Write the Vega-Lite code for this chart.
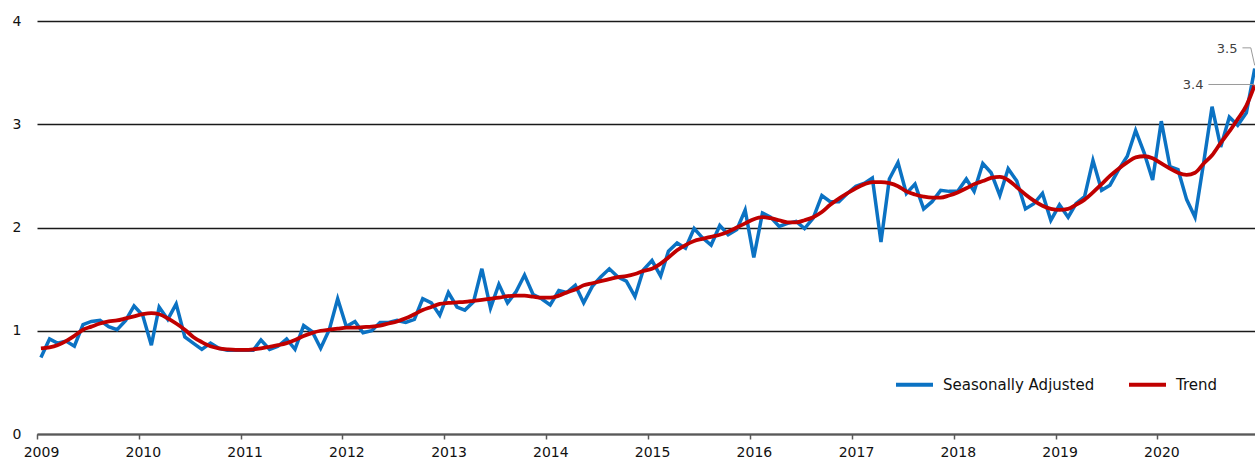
{
  "$schema": "https://vega.github.io/schema/vega-lite/v6.json",
  "width": 1218,
  "height": 413,
  "autosize": {"type": "none"},
  "padding": {"left": 37, "top": 21, "right": 0, "bottom": 26},
  "config": {"font": "DejaVu Sans", "view": {"stroke": null}},
  "datasets": {
    "main": [
      {"date":"2009-01-15","sa":0.74,"trend":0.83},{"date":"2009-02-15","sa":0.92,"trend":0.84},{"date":"2009-03-15","sa":0.88,"trend":0.86},{"date":"2009-04-15","sa":0.90,"trend":0.90},{"date":"2009-05-15","sa":0.85,"trend":0.95},{"date":"2009-06-15","sa":1.06,"trend":1.01},{"date":"2009-07-15","sa":1.09,"trend":1.04},{"date":"2009-08-15","sa":1.10,"trend":1.07},{"date":"2009-09-15","sa":1.04,"trend":1.09},{"date":"2009-10-15","sa":1.01,"trend":1.10},{"date":"2009-11-15","sa":1.10,"trend":1.12},{"date":"2009-12-15","sa":1.24,"trend":1.14},
      {"date":"2010-01-15","sa":1.15,"trend":1.16},{"date":"2010-02-15","sa":0.86,"trend":1.17},{"date":"2010-03-15","sa":1.23,"trend":1.16},{"date":"2010-04-15","sa":1.11,"trend":1.12},{"date":"2010-05-15","sa":1.26,"trend":1.07},{"date":"2010-06-15","sa":0.94,"trend":1.01},{"date":"2010-07-15","sa":0.88,"trend":0.94},{"date":"2010-08-15","sa":0.82,"trend":0.89},{"date":"2010-09-15","sa":0.88,"trend":0.85},{"date":"2010-10-15","sa":0.83,"trend":0.83},{"date":"2010-11-15","sa":0.81,"trend":0.82},{"date":"2010-12-15","sa":0.81,"trend":0.815},
      {"date":"2011-01-15","sa":0.81,"trend":0.815},{"date":"2011-02-15","sa":0.81,"trend":0.82},{"date":"2011-03-15","sa":0.91,"trend":0.83},{"date":"2011-04-15","sa":0.82,"trend":0.845},{"date":"2011-05-15","sa":0.85,"trend":0.86},{"date":"2011-06-15","sa":0.92,"trend":0.88},{"date":"2011-07-15","sa":0.82,"trend":0.91},{"date":"2011-08-15","sa":1.05,"trend":0.95},{"date":"2011-09-15","sa":0.99,"trend":0.98},{"date":"2011-10-15","sa":0.83,"trend":1.00},{"date":"2011-11-15","sa":1.01,"trend":1.01},{"date":"2011-12-15","sa":1.31,"trend":1.02},
      {"date":"2012-01-15","sa":1.04,"trend":1.03},{"date":"2012-02-15","sa":1.09,"trend":1.03},{"date":"2012-03-15","sa":0.98,"trend":1.035},{"date":"2012-04-15","sa":1.00,"trend":1.04},{"date":"2012-05-15","sa":1.08,"trend":1.05},{"date":"2012-06-15","sa":1.08,"trend":1.07},{"date":"2012-07-15","sa":1.10,"trend":1.09},{"date":"2012-08-15","sa":1.08,"trend":1.12},{"date":"2012-09-15","sa":1.11,"trend":1.16},{"date":"2012-10-15","sa":1.31,"trend":1.20},{"date":"2012-11-15","sa":1.27,"trend":1.23},{"date":"2012-12-15","sa":1.15,"trend":1.26},
      {"date":"2013-01-15","sa":1.37,"trend":1.27},{"date":"2013-02-15","sa":1.23,"trend":1.275},{"date":"2013-03-15","sa":1.20,"trend":1.28},{"date":"2013-04-15","sa":1.28,"trend":1.29},{"date":"2013-05-15","sa":1.60,"trend":1.30},{"date":"2013-06-15","sa":1.22,"trend":1.31},{"date":"2013-07-15","sa":1.45,"trend":1.32},{"date":"2013-08-15","sa":1.27,"trend":1.335},{"date":"2013-09-15","sa":1.38,"trend":1.34},{"date":"2013-10-15","sa":1.54,"trend":1.34},{"date":"2013-11-15","sa":1.35,"trend":1.33},{"date":"2013-12-15","sa":1.31,"trend":1.32},
      {"date":"2014-01-15","sa":1.25,"trend":1.32},{"date":"2014-02-15","sa":1.39,"trend":1.34},{"date":"2014-03-15","sa":1.37,"trend":1.37},{"date":"2014-04-15","sa":1.44,"trend":1.40},{"date":"2014-05-15","sa":1.27,"trend":1.44},{"date":"2014-06-15","sa":1.43,"trend":1.46},{"date":"2014-07-15","sa":1.52,"trend":1.48},{"date":"2014-08-15","sa":1.60,"trend":1.50},{"date":"2014-09-15","sa":1.52,"trend":1.52},{"date":"2014-10-15","sa":1.48,"trend":1.53},{"date":"2014-11-15","sa":1.33,"trend":1.55},{"date":"2014-12-15","sa":1.59,"trend":1.58},
      {"date":"2015-01-15","sa":1.68,"trend":1.60},{"date":"2015-02-15","sa":1.53,"trend":1.65},{"date":"2015-03-15","sa":1.77,"trend":1.71},{"date":"2015-04-15","sa":1.85,"trend":1.78},{"date":"2015-05-15","sa":1.80,"trend":1.83},{"date":"2015-06-15","sa":1.99,"trend":1.87},{"date":"2015-07-15","sa":1.90,"trend":1.89},{"date":"2015-08-15","sa":1.83,"trend":1.91},{"date":"2015-09-15","sa":2.02,"trend":1.93},{"date":"2015-10-15","sa":1.93,"trend":1.96},{"date":"2015-11-15","sa":1.98,"trend":2.00},{"date":"2015-12-15","sa":2.17,"trend":2.04},
      {"date":"2016-01-15","sa":1.71,"trend":2.08},{"date":"2016-02-15","sa":2.14,"trend":2.10},{"date":"2016-03-15","sa":2.10,"trend":2.09},{"date":"2016-04-15","sa":2.01,"trend":2.07},{"date":"2016-05-15","sa":2.04,"trend":2.05},{"date":"2016-06-15","sa":2.06,"trend":2.05},{"date":"2016-07-15","sa":1.99,"trend":2.07},{"date":"2016-08-15","sa":2.09,"trend":2.10},{"date":"2016-09-15","sa":2.31,"trend":2.15},{"date":"2016-10-15","sa":2.25,"trend":2.22},{"date":"2016-11-15","sa":2.25,"trend":2.28},{"date":"2016-12-15","sa":2.33,"trend":2.33},
      {"date":"2017-01-15","sa":2.40,"trend":2.38},{"date":"2017-02-15","sa":2.43,"trend":2.42},{"date":"2017-03-15","sa":2.48,"trend":2.44},{"date":"2017-04-15","sa":1.86,"trend":2.44},{"date":"2017-05-15","sa":2.47,"trend":2.43},{"date":"2017-06-15","sa":2.63,"trend":2.40},{"date":"2017-07-15","sa":2.33,"trend":2.35},{"date":"2017-08-15","sa":2.42,"trend":2.32},{"date":"2017-09-15","sa":2.18,"trend":2.30},{"date":"2017-10-15","sa":2.25,"trend":2.29},{"date":"2017-11-15","sa":2.36,"trend":2.29},{"date":"2017-12-15","sa":2.35,"trend":2.31},
      {"date":"2018-01-15","sa":2.35,"trend":2.34},{"date":"2018-02-15","sa":2.47,"trend":2.38},{"date":"2018-03-15","sa":2.35,"trend":2.42},{"date":"2018-04-15","sa":2.62,"trend":2.45},{"date":"2018-05-15","sa":2.53,"trend":2.48},{"date":"2018-06-15","sa":2.31,"trend":2.49},{"date":"2018-07-15","sa":2.57,"trend":2.46},{"date":"2018-08-15","sa":2.45,"trend":2.39},{"date":"2018-09-15","sa":2.18,"trend":2.32},{"date":"2018-10-15","sa":2.23,"trend":2.26},{"date":"2018-11-15","sa":2.33,"trend":2.21},{"date":"2018-12-15","sa":2.07,"trend":2.18},
      {"date":"2019-01-15","sa":2.22,"trend":2.17},{"date":"2019-02-15","sa":2.10,"trend":2.18},{"date":"2019-03-15","sa":2.23,"trend":2.22},{"date":"2019-04-15","sa":2.30,"trend":2.27},{"date":"2019-05-15","sa":2.65,"trend":2.34},{"date":"2019-06-15","sa":2.36,"trend":2.42},{"date":"2019-07-15","sa":2.41,"trend":2.50},{"date":"2019-08-15","sa":2.56,"trend":2.57},{"date":"2019-09-15","sa":2.69,"trend":2.63},{"date":"2019-10-15","sa":2.94,"trend":2.68},{"date":"2019-11-15","sa":2.72,"trend":2.69},{"date":"2019-12-15","sa":2.46,"trend":2.67},
      {"date":"2020-01-15","sa":3.03,"trend":2.62},{"date":"2020-02-15","sa":2.59,"trend":2.57},{"date":"2020-03-15","sa":2.56,"trend":2.53},{"date":"2020-04-15","sa":2.27,"trend":2.51},{"date":"2020-05-15","sa":2.10,"trend":2.53},{"date":"2020-06-15","sa":2.63,"trend":2.62},{"date":"2020-07-15","sa":3.17,"trend":2.70},{"date":"2020-08-15","sa":2.78,"trend":2.82},{"date":"2020-09-15","sa":3.07,"trend":2.93},{"date":"2020-10-15","sa":2.99,"trend":3.05},{"date":"2020-11-15","sa":3.11,"trend":3.18},{"date":"2020-12-15","sa":3.54,"trend":3.38}
    ],
    "leaders": [
      {"id":"sa","date":"2020-11-01","v":3.74},{"id":"sa","date":"2020-12-01","v":3.74},{"id":"sa","date":"2020-12-15","v":3.57},
      {"id":"trend","date":"2020-07-02","v":3.385},{"id":"trend","date":"2020-12-09","v":3.385},{"id":"trend","date":"2020-12-15","v":3.37}
    ],
    "labels": [
      {"label":"3.5","date":"2020-11-01","v":3.74},
      {"label":"3.4","date":"2020-07-02","v":3.385}
    ]
  },
  "layer": [
    {
      "data": {"name": "main"},
      "mark": {"type": "line", "strokeWidth": 3.5, "clip": true},
      "encoding": {
        "x": {
          "field": "date", "type": "temporal",
          "scale": {"type": "utc", "domain": [{"year": 2009, "month": 1, "date": 1, "utc": true}, {"year": 2020, "month": 12, "date": 16, "utc": true}]},
          "axis": {
            "title": null, "format": "%Y", "tickCount": {"interval": "year", "step": 1},
            "grid": false, "domainColor": "#595959", "domainWidth": 2,
            "tickColor": "#595959", "tickWidth": 1.5, "tickSize": 5,
            "labelFontSize": 14, "labelColor": "#111111", "labelPadding": 6, "labelOffset": 4,
            "labelFlush": false
          }
        },
        "y": {
          "field": "sa", "type": "quantitative",
          "scale": {"domain": [0, 4], "nice": false, "zero": true},
          "axis": {
            "title": null, "values": [0, 1, 2, 3, 4], "format": "d", "domain": false, "ticks": false,
            "gridColor": "#1a1a1a", "gridWidth": 1.3, "labelFontSize": 14,
            "labelColor": "#111111", "labelPadding": 16
          }
        },
        "color": {
          "datum": "Seasonally Adjusted", "type": "nominal",
          "scale": {"domain": ["Seasonally Adjusted", "Trend"], "range": ["#0b72c3", "#c00000"]},
          "legend": {
            "title": null, "orient": "none", "legendX": 857, "legendY": 343,
            "direction": "horizontal", "symbolType": "stroke", "symbolSize": 1369,
            "symbolStrokeWidth": 4, "labelFontSize": 15, "labelColor": "#111111",
            "labelOffset": 8, "columnPadding": 26, "padding": 0
          }
        }
      }
    },
    {
      "data": {"name": "main"},
      "mark": {"type": "line", "strokeWidth": 3.8, "interpolate": "monotone", "clip": true},
      "encoding": {
        "x": {"field": "date", "type": "temporal"},
        "y": {"field": "trend", "type": "quantitative"},
        "color": {"datum": "Trend", "type": "nominal"}
      }
    },
    {
      "data": {"name": "leaders"},
      "mark": {"type": "line", "color": "#9a9a9a", "strokeWidth": 1},
      "encoding": {
        "x": {"field": "date", "type": "temporal"},
        "y": {"field": "v", "type": "quantitative"},
        "detail": {"field": "id"}
      }
    },
    {
      "data": {"name": "labels"},
      "mark": {"type": "text", "align": "right", "baseline": "middle", "dx": -5, "dy": 1, "fontSize": 13, "color": "#404040"},
      "encoding": {
        "x": {"field": "date", "type": "temporal"},
        "y": {"field": "v", "type": "quantitative"},
        "text": {"field": "label"}
      }
    }
  ]
}
